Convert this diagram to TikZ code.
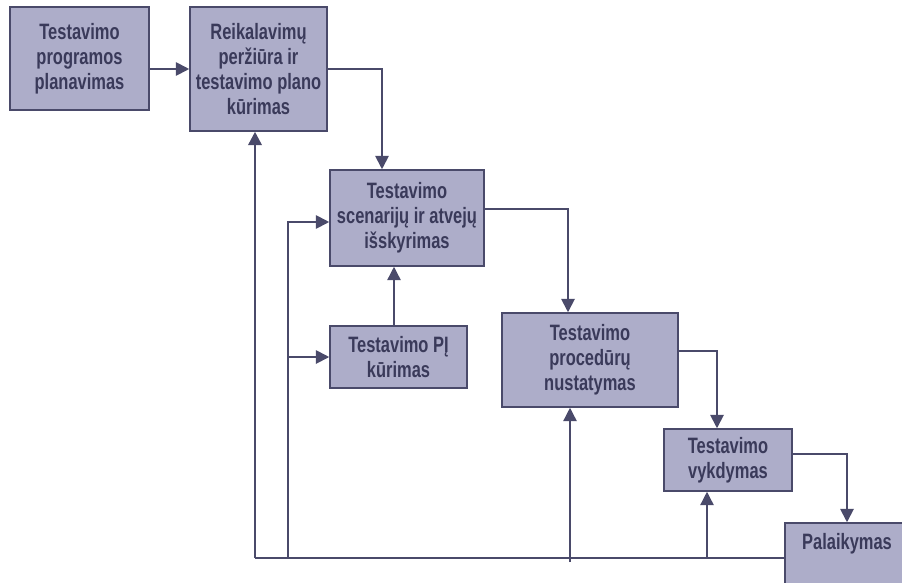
\documentclass[tikz,border=0pt]{standalone}
\usepackage{fontspec}
\setmainfont{Liberation Sans}[FakeStretch=0.74]
\usetikzlibrary{arrows.meta, calc}

\definecolor{boxfill}{RGB}{173,173,201}
\definecolor{boxline}{RGB}{74,74,106}
\definecolor{boxtext}{RGB}{58,58,90}
\newlength\px
\setlength\px{0.03cm}

\begin{document}
\begin{tikzpicture}[
    x=0.03cm, y=-0.03cm,
    stage/.style={rectangle, draw=boxline, fill=boxfill, line width=1.3pt, inner sep=0pt,
        align=center, text=boxtext, font=\bfseries\fontsize{19}{21.3}\selectfont},
    link/.style={draw=boxline, line width=1.6pt, -{Triangle[length=11.5pt, width=11.5pt]}},
    thinlink/.style={link, line width=1.2pt},
    loop/.style={draw=boxline, line width=2.2pt}
]
\clip (0,0) rectangle (902,582);

% ================= STAGES =================
\node[stage, minimum width=139\px, minimum height=103\px] (plan) at (79.5,58.5)
    {Testavimo\\programos\\planavimas};
\node[stage, minimum width=137\px, minimum height=124\px] (req) at (258.5,69)
    {Reikalavimų\\peržiūra ir\\testavimo plano\\kūrimas};
\node[stage, minimum width=154\px, minimum height=96\px] (scen) at (407,218)
    {Testavimo\\scenarijų ir atvejų\\išskyrimas};
\node[stage, minimum width=137\px, minimum height=62\px] (soft) at (398.5,357)
    {Testavimo PĮ\\kūrimas};
\node[stage, minimum width=176\px, minimum height=94\px] (proc) at (590,360)
    {Testavimo\\procedūrų\\nustatymas};
\node[stage, minimum width=128\px, minimum height=62\px] (exec) at (728,460)
    {Testavimo\\vykdymas};
\node[stage, minimum width=124\px, minimum height=70\px] (maint) at (847,558)
    {Palaikymas\\ \strut};

% ================= MAIN FLOW =================
\draw[link] (plan.east |- req.west) -- (req.west);
\draw[link] (req.east) -| ([xshift=-25\px]scen.north);
\draw[link] ([yshift=9\px]scen.east) -| ([xshift=-22\px]proc.north);
\draw[link] ([yshift=9\px]proc.east) -| ([xshift=-11\px]exec.north);
\draw[link] ([yshift=6\px]exec.east) -| (maint.north);
\draw[thinlink] (soft.north -| 394,0) -- (scen.south -| 394,0);

% ================= FEEDBACK =================
\coordinate (corner) at (255,558);
\coordinate (split) at (288,558);
\coordinate (toproc) at (570,562);
\coordinate (toexec) at (707,558);

\draw[loop] (maint.west) -- (corner);
\draw[link, line width=2.2pt] (corner) -- (corner |- req.south);
\draw[link] (split) |- ([yshift=-4\px]scen.west);
\draw[link] (split |- soft.west) -- (soft.west);
\draw[thinlink] (toproc) -- (toproc |- proc.south);
\draw[thinlink] (toexec) -- (toexec |- exec.south);

\end{tikzpicture}
\end{document}
